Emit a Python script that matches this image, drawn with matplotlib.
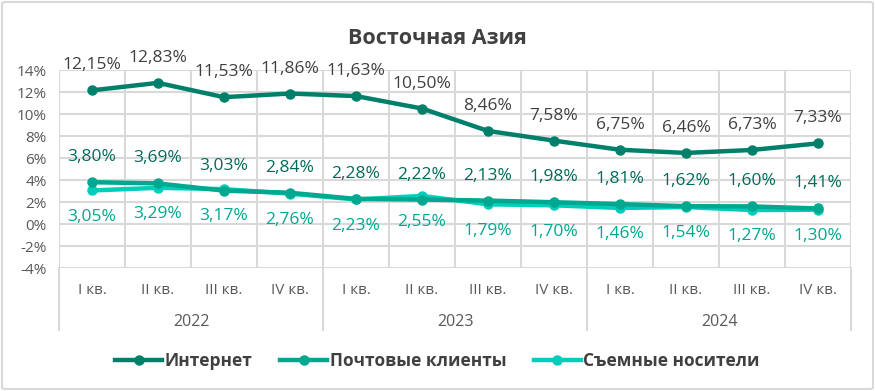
import matplotlib
matplotlib.use("Agg")
import matplotlib.pyplot as plt
from matplotlib.patches import FancyBboxPatch
from matplotlib.lines import Line2D
import matplotlib.transforms as mtrans

title = "Восточная Азия"
quarters = ["I кв.", "II кв.", "III кв.", "IV кв."] * 3
years = ["2022", "2023", "2024"]
series_names = ["Интернет", "Почтовые клиенты", "Съемные носители"]
internet = [12.15, 12.83, 11.53, 11.86, 11.63, 10.50, 8.46, 7.58, 6.75, 6.46, 6.73, 7.33]
mail = [3.80, 3.69, 3.03, 2.84, 2.28, 2.22, 2.13, 1.98, 1.81, 1.62, 1.60, 1.41]
removable = [3.05, 3.29, 3.17, 2.76, 2.23, 2.55, 1.79, 1.70, 1.46, 1.54, 1.27, 1.30]
yticks = [-4, -2, 0, 2, 4, 6, 8, 10, 12, 14]

line_colors = ["#00806A", "#00A88F", "#00CDBA"]
label_colors = ["#404040", "#006B5A", "#00A88F"]
label_offsets = [18, 18, -19]  # points

font = "Open Sans"
plt.rcParams['font.family'] = [font, 'DejaVu Sans']

W, H = 875, 391
fig = plt.figure(figsize=(W / 100, H / 100), dpi=100)
frame = FancyBboxPatch((2 / W, 2 / H), 1 - 4 / W, 1 - 4 / H,
                       boxstyle="round,pad=0,rounding_size=0.004",
                       transform=fig.transFigure, facecolor="none",
                       edgecolor="#D9D9D9", linewidth=1.5, zorder=-10)
fig.patches.append(frame)

L, R, T, B = 59, 851, 70, 268
ax = fig.add_axes([L / W, 1 - B / H, (R - L) / W, (B - T) / H])
ax.set_facecolor("none")
n = len(quarters)
x = list(range(n))
ax.set_xlim(-0.5, n - 0.5)
ax.set_ylim(-4, 14)
ax.set_yticks(yticks)
ax.set_yticklabels([f"{v}%" for v in yticks], color="#595959", fontsize=11)
ax.set_xticks([])
ax.tick_params(axis="y", length=0, pad=9)
for s in ax.spines.values():
    s.set_visible(False)
grid_c = "#D9D9D9"
for v in yticks:
    ax.axhline(v, color=grid_c, lw=1.5, zorder=0)
for i in range(n + 1):
    ax.axvline(i - 0.5, color=grid_c, lw=1.5, zorder=0)

data = [internet, mail, removable]
for k in [2, 1, 0]:
    vals = data[k]
    ax.plot(x, vals, color=line_colors[k], lw=3.2, marker="o", ms=6.5,
            solid_capstyle="round", zorder=3 + (2 - k), clip_on=False)
    for xi, v in zip(x, vals):
        ax.annotate(f"{v:.2f}%".replace(".", ","), (xi, v), xytext=(0, label_offsets[k]),
                    textcoords="offset points", ha="center", va="center",
                    fontsize=12.5, color=label_colors[k], zorder=6)

# category labels
trans = mtrans.blended_transform_factory(ax.transData, fig.transFigure)
for xi, q in zip(x, quarters):
    ax.text(xi, 1 - 291 / H, q, transform=trans, ha="center", va="center",
            fontsize=11, color="#595959")
for j, yr in enumerate(years):
    ax.text(4 * j + 1.5, 1 - 322 / H, yr, transform=trans, ha="center", va="center",
            fontsize=11.5, color="#595959")
for j in range(len(years) + 1):
    xx = 4 * j - 0.5
    fig.add_artist(Line2D([xx, xx], [1 - B / H, 1 - 330 / H], transform=trans,
                          color=grid_c, lw=1.5))

fig.text(0.5, 1 - 38 / H, title, ha="center", va="center", fontsize=15.5,
         fontweight="bold", color="#404040")

leg_handles = [Line2D([], [], color=line_colors[k], lw=3.2, marker="o", ms=6.5)
               for k in range(3)]
leg = fig.legend(leg_handles, series_names, loc="center", bbox_to_anchor=(0.5, 1 - 361 / H),
                 ncol=3, frameon=False, handlelength=2.7, columnspacing=1.6,
                 handletextpad=0.15, prop={"weight": "bold", "size": 12.5})
for t in leg.get_texts():
    t.set_color("#404040")

fig.savefig("out.png", dpi=100)
